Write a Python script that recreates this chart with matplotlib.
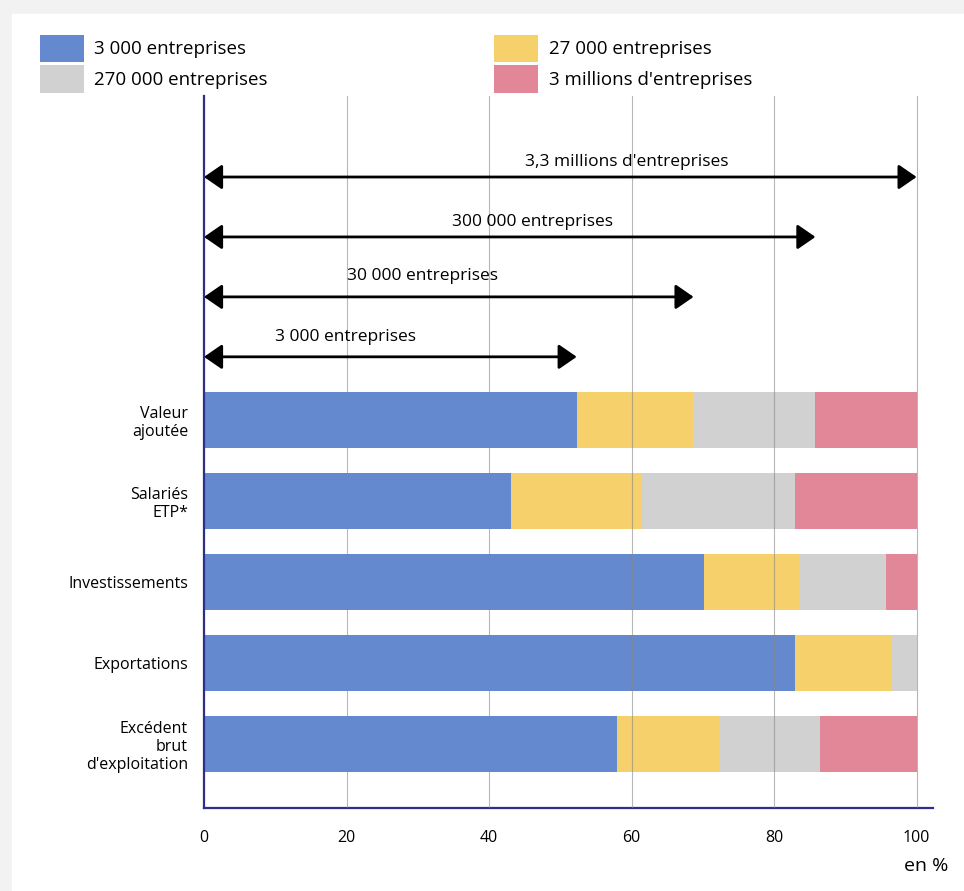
import matplotlib
matplotlib.use("Agg")
import matplotlib.pyplot as plt
from matplotlib.patches import Rectangle
import numpy as np

plt.rcParams["font.family"] = ["Open Sans", "DejaVu Sans"]

# data (shares in %)
categories = ["Valeur\najoutée", "Salariés\nETP*", "Investissements",
              "Exportations", "Excédent\nbrut\nd'exploitation"]
series = ["3 000 entreprises", "27 000 entreprises",
          "270 000 entreprises", "3 millions d'entreprises"]
ge = [52.3, 43.1, 70.1, 82.9, 57.9]
eti = [16.4, 18.3, 13.5, 13.7, 14.5]
pme = [17.1, 21.5, 12.1, 3.4, 14.1]
micro = [14.2, 17.1, 4.3, 0.0, 13.5]
colors = ["#6489CF", "#F6D06B", "#D1D1D1", "#E28797"]

arrow_labels = ["3,3 millions d'entreprises", "300 000 entreprises",
                "30 000 entreprises", "3 000 entreprises"]
arrow_ends = [100, 85.8, 68.7, 52.3]
arrow_text_x = [59.3, 46.1, 30.7, 19.8]

fig = plt.figure(figsize=(9.64, 8.91), dpi=100)
fig.patches.append(Rectangle((0, 0), 1, 1, transform=fig.transFigure,
                             color="#f2f2f2", zorder=-10))
fig.patches.append(Rectangle((12 / 964, 0), 1, 1 - 14 / 891,
                             transform=fig.transFigure, color="white", zorder=-9))

ax = fig.add_axes([204 / 964, 83 / 891, 729 / 964, 712 / 891])
ax.set_facecolor("none")

y = np.arange(len(categories))
left = np.zeros(len(categories))
for vals, c, lab in zip([ge, eti, pme, micro], colors, series):
    ax.barh(y, vals, left=left, height=0.69, color=c, label=lab, zorder=2)
    left += np.array(vals)

ax.set_xlim(0, 102.3)
ax.set_ylim(4.79, -4.0)

for g in [20, 40, 60, 80, 100]:
    ax.axvline(g, color="#888888", lw=0.8, alpha=0.6, zorder=3)

# arrows showing cumulative counts of firms
arrow_y = [-3.0, -2.26, -1.52, -0.78]
text_y = [-3.185, -2.444, -1.778, -1.025]
for lab, xe, xt, ya, yt in zip(arrow_labels, arrow_ends, arrow_text_x, arrow_y, text_y):
    ax.annotate("", xy=(xe, ya), xytext=(0, ya),
                arrowprops=dict(arrowstyle="<|-|>,head_length=0.55,head_width=0.38",
                                mutation_scale=20, color="black", lw=2,
                                shrinkA=0, shrinkB=0), zorder=4)
    ax.text(xt, yt, lab, ha="center", va="center", fontsize=12.5)

ax.set_yticks(y)
ax.set_yticklabels(categories, fontsize=11.5, ha="right", multialignment="right",
                   linespacing=1.15)
ax.tick_params(axis="y", length=0, pad=11.5)
ax.set_xticks([0, 20, 40, 60, 80, 100])
ax.tick_params(axis="x", length=0, pad=16, labelsize=11.5)

for s in ["top", "right"]:
    ax.spines[s].set_visible(False)
for s in ["left", "bottom"]:
    ax.spines[s].set_color("#2d2d8a")
    ax.spines[s].set_linewidth(1.6)

fig.text(948 / 964, 1 - 866 / 891, "en %", ha="right", va="center", fontsize=14)

# legend
handles, labels = ax.get_legend_handles_labels()
order = [0, 2, 1, 3]
fig.legend([handles[i] for i in order], [labels[i] for i in order],
           loc="upper left", bbox_to_anchor=(32 / 964, 1 - 27 / 891),
           ncol=2, frameon=False, fontsize=13.5, handlelength=2.35,
           handleheight=1.9, handletextpad=0.55, columnspacing=12.1,
           labelspacing=0.15, borderaxespad=0)

fig.savefig("out.png", dpi=100)
